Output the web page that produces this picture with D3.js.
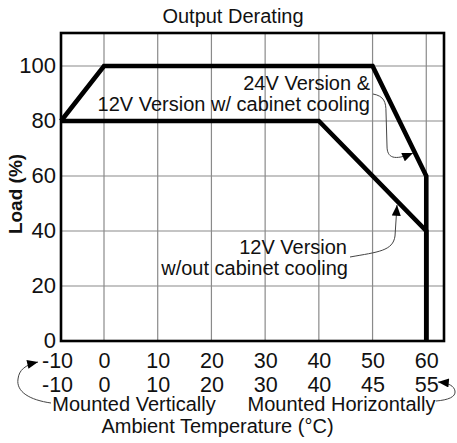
<!DOCTYPE html>
<html>
<head>
<meta charset="utf-8">
<script src="https://cdn.jsdelivr.net/npm/d3@7/dist/d3.min.js"></script>
<style>
  html, body { margin: 0; padding: 0; background: #fff; }
  svg { display: block; font-family: "Liberation Sans", Arial, sans-serif; }
</style>
</head>
<body>
<svg id="chart" width="457" height="443"></svg>
<script>
// ---- data ----
const title = "Output Derating";
const tempTicks = [-10, 0, 10, 20, 30, 40, 50, 60];          // vertically mounted (row 1)
const tempLabelsHorizontal = ["-10", "0", "10", "20", "30", "40", "45", "55"]; // row 2
const loadTicks = [0, 20, 40, 60, 80, 100];
const v24Temp = [-10, 0, 50, 60, 60];
const v24Load = [80, 100, 100, 60, 0];
const v12Temp = [-10, 40, 60, 60];
const v12Load = [80, 80, 40, 0];
const labelUpper = ["24V Version &", "12V Version w/ cabinet cooling"];
const labelLower = ["12V Version", "w/out cabinet cooling"];
const mountLabels = ["Mounted Vertically", "Mounted Horizontally"];
const xTitle = "Ambient Temperature (°C)";
const yTitle = "Load (%)";

// ---- layout ----
const svg = d3.select("#chart");
const pLeft = 61, pRight = 444, pTop = 33, pBottom = 341;
const x = d3.scaleLinear().domain([-10, 0, 63.3]).range([pLeft, 104, pRight]);
const y = d3.scaleLinear().domain([0, 112]).range([pBottom, pTop]);

// grid
const grid = svg.append("g").attr("stroke", "#8a8a8a").attr("stroke-width", 1.2);
grid.selectAll("line.v").data(tempTicks.filter(d => d > -10)).join("line")
  .attr("x1", d => x(d)).attr("x2", d => x(d)).attr("y1", pTop).attr("y2", pBottom);
grid.selectAll("line.h").data(loadTicks.filter(d => d > 0)).join("line")
  .attr("x1", pLeft).attr("x2", pRight).attr("y1", d => y(d)).attr("y2", d => y(d));

// frame
svg.append("rect").attr("x", pLeft).attr("y", pTop)
  .attr("width", pRight - pLeft).attr("height", pBottom - pTop)
  .attr("fill", "none").attr("stroke", "#000").attr("stroke-width", 2.6);

// data lines
const line = d3.line().x(d => x(d[0])).y(d => y(d[1]));
[[v24Temp, v24Load], [v12Temp, v12Load]].forEach(([t, l]) => {
  svg.append("path").datum(t.map((d, i) => [d, l[i]]))
    .attr("d", line).attr("fill", "none").attr("stroke", "#000")
    .attr("stroke-width", 4.6).attr("stroke-linejoin", "miter");
});

// y axis
const yAxis = svg.append("g").attr("transform", `translate(${pLeft},0)`)
  .call(d3.axisLeft(y).tickValues(loadTicks).tickSize(0).tickPadding(5));
yAxis.select(".domain").remove();
yAxis.selectAll("text").attr("font-size", 22).attr("fill", "#111")
  .attr("font-family", "Liberation Sans, Arial, sans-serif")
  .attr("dy", "0.28em");

// x axis rows
function xRow(yPos, fmt) {
  const g = svg.append("g").attr("transform", `translate(0,${yPos})`)
    .call(d3.axisBottom(x).tickValues(tempTicks).tickSize(0).tickPadding(0).tickFormat(fmt));
  g.select(".domain").remove();
  g.selectAll("text").attr("font-size", 21.5).attr("fill", "#111")
    .attr("font-family", "Liberation Sans, Arial, sans-serif")
    .attr("dy", 0).attr("y", 0)
    .attr("dx", d => d < 0 ? -4 : 0);
}
xRow(367.5, d => String(d));
xRow(391.5, (d, i) => tempLabelsHorizontal[i]);

// texts
const txt = (s, xx, yy, size, anchor) => svg.append("text").attr("x", xx).attr("y", yy)
  .attr("font-size", size).attr("text-anchor", anchor).attr("fill", "#111").text(s);
txt(title, 233, 22.5, 20, "middle");
txt(labelUpper[0], 370, 90, 20, "end");
txt(labelUpper[1], 370, 111, 20, "end");
txt(labelLower[0], 347, 254, 20, "end");
txt(labelLower[1], 348, 274.5, 20, "end");
txt(mountLabels[0], 134, 410.5, 20, "middle");
txt(mountLabels[1], 341.5, 410.5, 20, "middle");
txt(xTitle, 217.5, 432.5, 20, "middle");
svg.append("text").attr("transform", "translate(22,194) rotate(-90)")
  .attr("text-anchor", "middle").attr("font-size", 19).attr("font-weight", "bold")
  .attr("fill", "#111").text(yTitle);

// arrows
const defs = svg.append("defs");
defs.append("marker").attr("id", "ah").attr("viewBox", "0 0 12 10")
  .attr("refX", 12).attr("refY", 5).attr("markerWidth", 12).attr("markerHeight", 9)
  .attr("markerUnits", "userSpaceOnUse").attr("orient", "auto")
  .append("path").attr("d", "M0,0 L12,5 L0,10 z").attr("fill", "#000");
const arrows = [
  "M 373 94 C 384 96, 386 102, 386 112 L 387 146 C 387 158, 394 161, 413 153",
  "M 350 257 C 378 252, 393 251, 395 236 L 397 205",
  "M 51 403 C 30 400, 16 392, 18 379 C 19 370, 25 365, 38 362",
  "M 436 401 C 448 400, 456 397, 455 391 C 454 386, 449 383, 438 382"
];
svg.selectAll("path.arrow").data(arrows).join("path").attr("class", "arrow")
  .attr("d", d => d).attr("fill", "none").attr("stroke", "#444")
  .attr("stroke-width", 1).attr("marker-end", "url(#ah)");
</script>
</body>
</html>
